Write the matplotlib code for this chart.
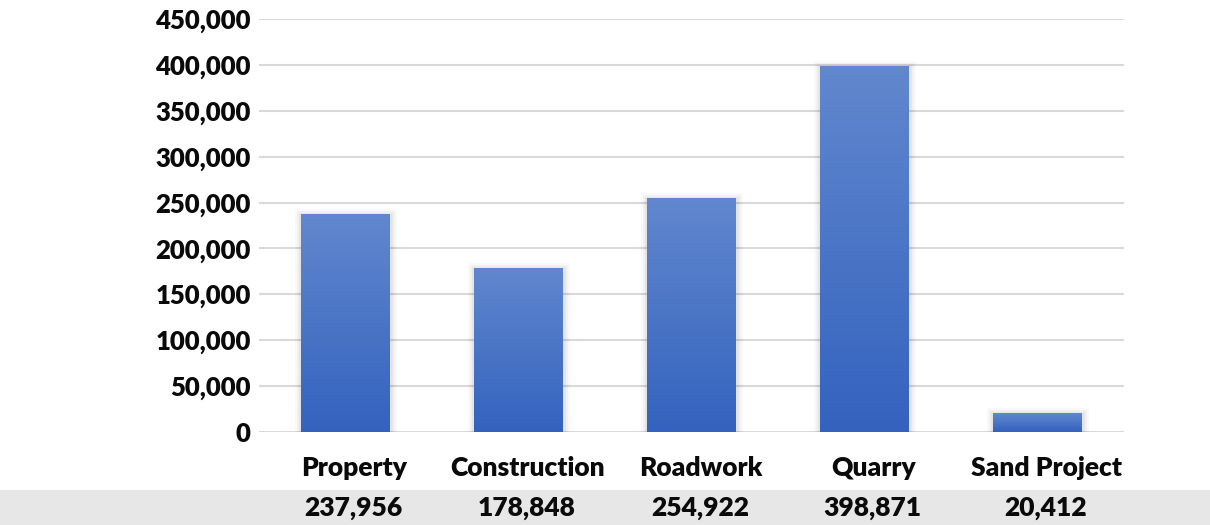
import matplotlib
matplotlib.use("Agg")
import matplotlib.pyplot as plt
import numpy as np
from matplotlib.ticker import FuncFormatter, MultipleLocator
from matplotlib.colors import LinearSegmentedColormap
import matplotlib.patheffects as pe

categories = ["Property", "Construction", "Roadwork", "Quarry", "Sand Project"]
values = [237956, 178848, 254922, 398871, 20412]
value_labels = ["237,956", "178,848", "254,922", "398,871", "20,412"]

plt.rcParams['font.family'] = ['Lato', 'DejaVu Sans']
WEIGHT = "heavy"

fig = plt.figure(figsize=(12.1, 5.25), dpi=100)
# gray band at the bottom
fig.patches.append(plt.Rectangle((0, 0), 1, 35/525, transform=fig.transFigure,
                                 facecolor="#e6e7e6", edgecolor="none", zorder=-5))

ax = fig.add_axes([259/1210, 1 - 432/525, (1124-259)/1210, (432-19)/525])
ax.patch.set_alpha(0)

x = np.arange(len(categories))
shadow = [pe.Stroke(linewidth=10, foreground="#000000", alpha=0.025, offset=(0.5, -1.5)),
          pe.Stroke(linewidth=7, foreground="#000000", alpha=0.035, offset=(0.5, -1.5)),
          pe.Stroke(linewidth=4, foreground="#000000", alpha=0.05, offset=(0.5, -1.5)),
          pe.Normal()]
bars = ax.bar(x, values, width=0.51, color="#4a74c6", zorder=3, path_effects=shadow)

cmap = LinearSegmentedColormap.from_list("g", ["#3462be", "#6188ce"])
grad = np.linspace(0, 1, 256).reshape(-1, 1)
for b in bars:
    im = ax.imshow(grad, cmap=cmap, aspect="auto", origin="lower",
                   extent=[b.get_x(), b.get_x() + b.get_width(), 0, b.get_height()], zorder=4)
    im.set_clip_path(b)

ax.set_xlim(-0.5, len(categories) - 0.5)
ax.set_ylim(0, 450000)
ax.yaxis.set_major_locator(MultipleLocator(50000))
ax.yaxis.set_major_formatter(FuncFormatter(lambda v, p: f"{int(v):,}"))
ax.grid(axis="y", color="#d9d9d9", linewidth=1.5, zorder=0)
ax.set_axisbelow(True)
for s in ax.spines.values():
    s.set_visible(False)
ax.tick_params(axis="y", length=0, pad=6, labelsize=18.5, labelcolor="#0a0a0a")
for t in ax.get_yticklabels():
    t.set_fontweight(WEIGHT)
ax.set_xticks([])

# category labels
for i, c in enumerate(categories):
    ax.annotate(c, xy=(i, 0), xycoords=("data", "axes fraction"), xytext=(6.5, -26),
                textcoords="offset points", ha="center", va="center",
                fontsize=19, fontweight=WEIGHT, color="#0a0a0a", zorder=10)

# values in the gray band
for i, v in enumerate(value_labels):
    ax.annotate(v, xy=(i, 0), xycoords=("data", "axes fraction"), xytext=(6, -55),
                textcoords="offset points", ha="center", va="center",
                fontsize=19, fontweight=WEIGHT, color="#0a0a0a", zorder=10)

fig.savefig("out.png", dpi=100)
